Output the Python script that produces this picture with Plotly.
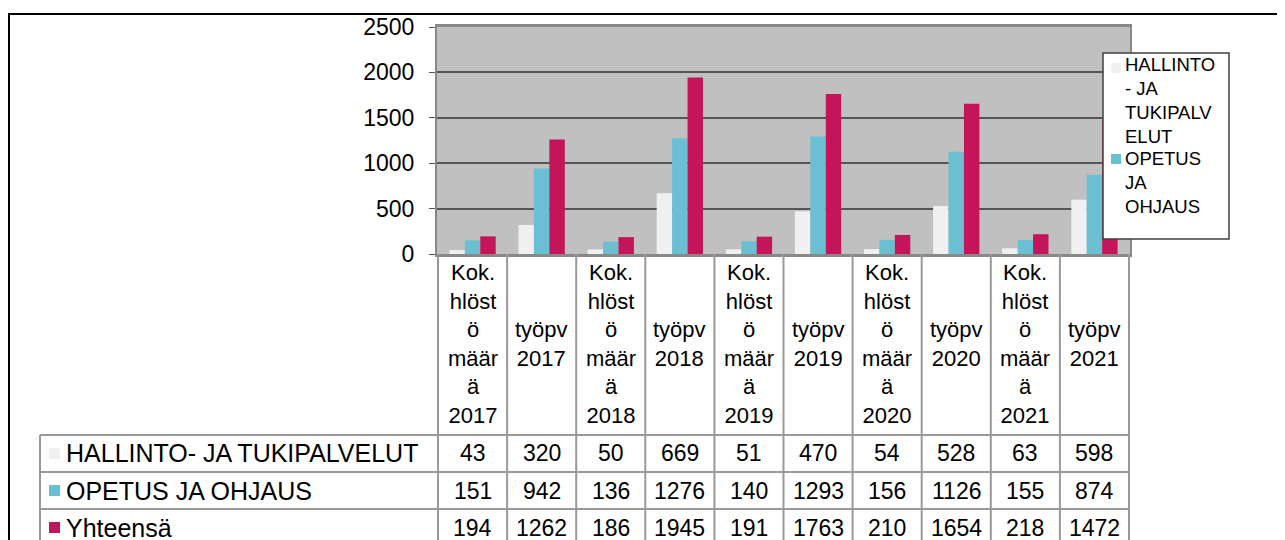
import plotly.graph_objects as go

# data
categories = ["Kok. hlöstö määrä 2017", "työpv 2017", "Kok. hlöstö määrä 2018", "työpv 2018",
              "Kok. hlöstö määrä 2019", "työpv 2019", "Kok. hlöstö määrä 2020", "työpv 2020",
              "Kok. hlöstö määrä 2021", "työpv 2021"]
cat_labels = ["Kok.<br>hlöst<br>ö<br>määr<br>ä<br>2017", "työpv<br>2017",
              "Kok.<br>hlöst<br>ö<br>määr<br>ä<br>2018", "työpv<br>2018",
              "Kok.<br>hlöst<br>ö<br>määr<br>ä<br>2019", "työpv<br>2019",
              "Kok.<br>hlöst<br>ö<br>määr<br>ä<br>2020", "työpv<br>2020",
              "Kok.<br>hlöst<br>ö<br>määr<br>ä<br>2021", "työpv<br>2021"]
series_names = ["HALLINTO- JA TUKIPALVELUT", "OPETUS JA OHJAUS", "Yhteensä"]
hallinto = [43, 320, 50, 669, 51, 470, 54, 528, 63, 598]
opetus = [151, 942, 136, 1276, 140, 1293, 156, 1126, 155, 874]
yhteensa = [194, 1262, 186, 1945, 191, 1763, 210, 1654, 218, 1472]
legend_labels = ["HALLINTO<br>- JA<br>TUKIPALV<br>ELUT", "OPETUS<br>JA<br>OHJAUS"]

colors = ["#f0f0f0", "#6bbfd3", "#c4145a"]
FONT = "Liberation Sans, Arial, sans-serif"

# page body has an 8px margin, so the figure starts at (8, 8) on screen
OFF = 8
# plot area in screen pixels
L, R, T, B = 437, 1130, 27, 254
W, H = R - L, B - T


def px(x):
    return (x - L) / W


def py(y):
    return (B - y) / H


fig = go.Figure()
for name, vals, c in zip(series_names, [hallinto, opetus, yhteensa], colors):
    fig.add_trace(go.Bar(x=categories, y=vals, name=name, marker_color=c,
                         marker_line_width=0, showlegend=False))

shapes = []
ann = []

# outer chart border
shapes.append(dict(type="rect", xref="paper", yref="paper", x0=px(9), x1=px(1310),
                   y0=py(14), y1=py(570), line=dict(color="black", width=2)))

# category label cells / table vertical lines
for i in range(len(categories) + 1):
    shapes.append(dict(type="line", xref="x", yref="paper", x0=i - 0.5, x1=i - 0.5,
                       y0=py(254), y1=py(560), line=dict(color="#999", width=2)))

# table rows
row_lines = [435, 472, 509]
row_centers = [453.5, 490.5, 527.5]
for yl in row_lines:
    shapes.append(dict(type="line", xref="paper", yref="paper", x0=px(40), x1=px(1130),
                       y0=py(yl), y1=py(yl), line=dict(color="#999", width=2)))
shapes.append(dict(type="line", xref="paper", yref="paper", x0=px(40), x1=px(40),
                   y0=py(435), y1=py(560), line=dict(color="#999", width=2)))

for name, vals, c, yc in zip(series_names, [hallinto, opetus, yhteensa], colors, row_centers):
    shapes.append(dict(type="rect", xref="paper", yref="paper", x0=px(49), x1=px(60),
                       y0=py(yc - 5.5), y1=py(yc + 5.5), fillcolor=c, line_width=0))
    ann.append(dict(xref="paper", yref="paper", x=px(64), y=py(yc), text=name,
                    showarrow=False, xanchor="left", yanchor="middle",
                    font=dict(family=FONT, size=25, color="black")))
    for cat, v in zip(categories, vals):
        ann.append(dict(xref="x", yref="paper", x=cat, y=py(yc), text=str(v),
                        showarrow=False, xanchor="center", yanchor="middle",
                        font=dict(family=FONT, size=23, color="black")))

# category labels
for cat, lab in zip(categories, cat_labels):
    ann.append(dict(xref="x", yref="paper", x=cat, y=py(344), text=lab,
                    showarrow=False, xanchor="center", yanchor="middle",
                    font=dict(family=FONT, size=22, color="black")))

# legend box (truncated, as in the original)
shapes.append(dict(type="rect", xref="paper", yref="paper", x0=px(1103), x1=px(1229),
                   y0=py(53), y1=py(239), fillcolor="white", layer="above",
                   line=dict(color="#404040", width=1.5)))
for lab, c, sq, mid in zip(legend_labels, colors, [68, 159], [100.5, 182]):
    shapes.append(dict(type="rect", xref="paper", yref="paper", x0=px(1111), x1=px(1121),
                       y0=py(sq - 5), y1=py(sq + 5), fillcolor=c, line_width=0, layer="above"))
    ann.append(dict(xref="paper", yref="paper", x=px(1123), y=py(mid), text=lab,
                    showarrow=False, xanchor="left", yanchor="middle", align="left",
                    font=dict(family=FONT, size=18.5, color="black")))

fig.update_layout(
    width=1285, height=540,
    margin=dict(l=L - OFF, r=1285 - (R - OFF), t=T - OFF, b=540 - (B - OFF)),
    paper_bgcolor="white", plot_bgcolor="#c0c0c0",
    barmode="group", bargap=0.33, bargroupgap=0,
    shapes=shapes, annotations=ann,
    font=dict(family=FONT, color="black"),
)
fig.update_xaxes(showticklabels=False, ticks="", showgrid=False, showline=True,
                 linecolor="#888", linewidth=3, mirror=True, automargin=False)
fig.update_yaxes(range=[0, 2500], dtick=500, showgrid=True, gridcolor="#555", gridwidth=1.5,
                 zeroline=False, showline=True, linecolor="#888", linewidth=2, mirror=True,
                 ticks="outside", ticklen=6, tickcolor="#555", ticklabelstandoff=10,
                 automargin=False,
                 tickfont=dict(family=FONT, size=23, color="black"))

fig.write_html("out.html")
